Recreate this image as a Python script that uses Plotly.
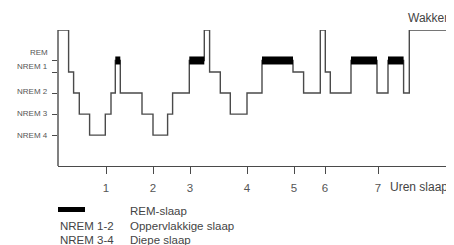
import plotly.graph_objects as go

# Stage levels (vertical scale of the hypnogram)
stage_names = ["Wakker", "REM", "NREM 1", "NREM 2", "NREM 3", "NREM 4"]
stage_levels = {"Wakker": 5.0, "REM": 3.55, "NREM 1": 3.0, "NREM 2": 2.0, "NREM 3": 1.0, "NREM 4": 0.0}

# Time axis (the chart's own horizontal scale; hour ticks are not evenly spaced)
hour_positions = [48, 95, 132, 189, 236, 267, 320]
hour_labels = ["1", "2", "3", "4", "5", "6", "7"]
x_end = 392

# Hypnogram: time at which each stage begins
change_times = [0, 10.6, 15.6, 21.3, 31.6, 47.3, 53, 57.3, 62.3, 84, 95, 109.6, 114.6,
                131.3, 146.3, 151.6, 162.3, 172.3, 189, 204, 235, 245.6, 262.3, 267.3,
                272.3, 293, 319, 330, 345.6, 351.3]
change_stages = ["Wakker", "NREM 1", "NREM 2", "NREM 3", "NREM 4", "NREM 3", "NREM 2", "REM",
                 "NREM 2", "NREM 3", "NREM 4", "NREM 3", "NREM 2", "REM", "Wakker", "NREM 1",
                 "NREM 2", "NREM 3", "NREM 2", "REM", "NREM 1", "NREM 2", "Wakker", "NREM 1",
                 "NREM 2", "REM", "NREM 2", "REM", "NREM 2", "Wakker"]

xs = change_times + [x_end]
ys = [stage_levels[s] for s in change_stages] + [stage_levels[change_stages[-1]]]

# REM segments drawn as thick black bars
rem_x, rem_y = [], []
for i, s in enumerate(change_stages):
    if s == "REM":
        end = change_times[i + 1] if i + 1 < len(change_times) else x_end
        rem_x += [change_times[i], end, None]
        rem_y += [stage_levels["REM"], stage_levels["REM"], None]

y_bottom = -1.47
line_col = "#4a4a4a"
text_col = "#555555"
font_fam = "Liberation Sans, Arial, sans-serif"

fig = go.Figure()
fig.add_trace(go.Scatter(x=xs, y=ys, mode="lines", line=dict(shape="hv", color=line_col, width=1.4),
                         cliponaxis=False, hoverinfo="skip", showlegend=False))
fig.add_trace(go.Scatter(x=rem_x, y=rem_y, mode="lines", line=dict(color="black", width=8),
                         cliponaxis=False, hoverinfo="skip", showlegend=False))

annotations = []
# Y stage labels
y_tick_stages = ["REM", "NREM 1", "NREM 2", "NREM 3", "NREM 4"]
label_shift = [8, 6, 2, 1, 0]
for s, sh in zip(y_tick_stages, label_shift):
    annotations.append(dict(x=0, xref="paper", y=stage_levels[s], yref="y", text=s,
                            xanchor="right", yanchor="middle", xshift=-8, yshift=sh, showarrow=False,
                            font=dict(family=font_fam, size=8, color=text_col)))
annotations.append(dict(x=x_end, xref="x", y=stage_levels["Wakker"], yref="y", text="Wakker",
                        xanchor="right", yanchor="bottom", yshift=3, showarrow=False,
                        font=dict(family=font_fam, size=12, color="#444444")))
annotations.append(dict(x=x_end, xref="x", y=y_bottom, yref="y", text="Uren slaap",
                        xanchor="right", yanchor="middle", yshift=-21, showarrow=False,
                        font=dict(family=font_fam, size=12, color="#444444")))

# Legend text below the chart
legend_rows = [("", "REM-slaap"), ("NREM 1-2", "Oppervlakkige slaap"), ("NREM 3-4", "Diepe slaap")]
legend_y = [211, 226, 240]
for (k, v), py in zip(legend_rows, legend_y):
    yp = 1 - (py - 30) / 136.0
    if k:
        annotations.append(dict(x=0, xref="paper", y=yp, yref="paper", text=k, xanchor="left",
                                yanchor="middle", showarrow=False,
                                font=dict(family=font_fam, size=11.5, color="#444444")))
    annotations.append(dict(x=70 / 392.0, xref="paper", y=yp, yref="paper", text=v, xanchor="left",
                            yanchor="middle", showarrow=False,
                            font=dict(family=font_fam, size=11.5, color="#444444")))

shapes = [
    dict(type="line", xref="paper", yref="y", x0=0, x1=0, y0=y_bottom, y1=stage_levels["Wakker"],
         line=dict(color=line_col, width=1.4)),
    dict(type="rect", xref="paper", yref="paper", x0=0, x1=27 / 392.0,
         y0=1 - (212 - 30) / 136.0, y1=1 - (207 - 30) / 136.0, fillcolor="black", line=dict(width=0)),
]

# The page body adds an 8 px margin, so the figure is 16 px smaller and shifted
fig.update_layout(
    width=446, height=237,
    margin=dict(l=50, r=4, t=22, b=79),
    paper_bgcolor="white", plot_bgcolor="white",
    annotations=annotations, shapes=shapes,
    xaxis=dict(range=[0, x_end], showgrid=False, zeroline=False, showline=True, linecolor=line_col,
               linewidth=1.4, tickvals=hour_positions, ticktext=hour_labels, ticks="outside",
               ticklen=7, tickcolor=line_col, tickwidth=1.2, ticklabelstandoff=4,
               tickfont=dict(family=font_fam, size=11.5, color=text_col), fixedrange=True),
    yaxis=dict(range=[y_bottom, stage_levels["Wakker"]], showgrid=False, zeroline=False, showline=False,
               tickvals=[stage_levels[s] for s in y_tick_stages], ticks="outside", ticklen=5,
               tickcolor=line_col, tickwidth=1.2, showticklabels=False, fixedrange=True),
)

fig.write_html("out.html")
